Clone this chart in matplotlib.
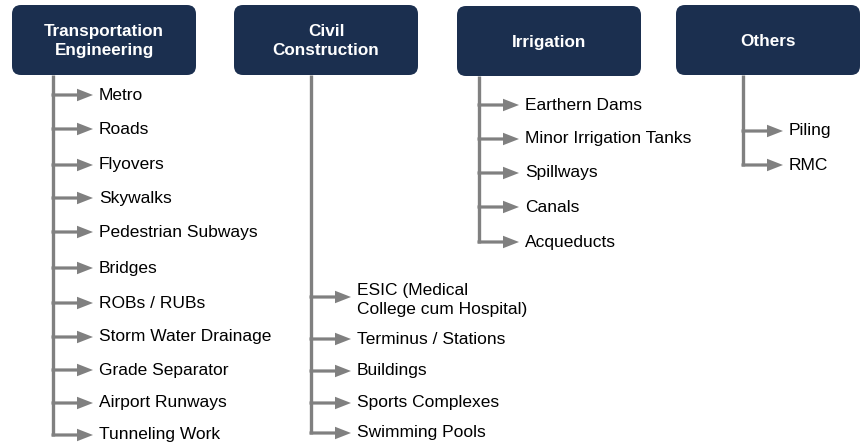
import matplotlib.pyplot as plt
from matplotlib.patches import FancyBboxPatch, FancyArrow

plt.rcParams['font.family'] = ['Liberation Sans', 'DejaVu Sans']

# categories and their items
categories = ['Transportation\nEngineering', 'Civil\nConstruction', 'Irrigation', 'Others']
transport = ['Metro', 'Roads', 'Flyovers', 'Skywalks', 'Pedestrian Subways', 'Bridges',
             'ROBs / RUBs', 'Storm Water Drainage', 'Grade Separator', 'Airport Runways',
             'Tunneling Work']
civil = ['ESIC (Medical\nCollege cum Hospital)', 'Terminus / Stations', 'Buildings',
         'Sports Complexes', 'Swimming Pools']
irrigation = ['Earthern Dams', 'Minor Irrigation Tanks', 'Spillways', 'Canals', 'Acqueducts']
others = ['Piling', 'RMC']
items = [transport, civil, irrigation, others]

# layout (pixels)
box_x = [12, 234, 457, 676]
box_top = [5, 5, 6, 5]
box_w = 184
box_h = 70
stem_x = [53, 311, 479, 743]
item_y = [
    [95, 129, 165, 198, 232, 268, 303, 337, 370, 403, 435],
    [300, 339, 371, 403, 433],
    [105, 139, 173, 207, 242],
    [131, 165],
]
arrow_len = 40
navy = '#1b2f4f'
grey = '#808080'

fig = plt.figure(figsize=(8.63, 4.48), dpi=100)
ax = fig.add_axes([0, 0, 1, 1])
ax.set_xlim(0, 863)
ax.set_ylim(448, 0)
ax.axis('off')

for i, cat in enumerate(categories):
    bx, by = box_x[i], box_top[i]
    ax.add_patch(FancyBboxPatch((bx, by), box_w, box_h,
                                boxstyle='round,pad=0,rounding_size=9',
                                fc=navy, ec='none', zorder=3))
    ax.text(bx + box_w / 2, by + box_h / 2 + 1, cat, color='white', fontsize=12.3,
            fontweight='bold', ha='center', va='center', linespacing=1.4, zorder=4)

    sx = stem_x[i]
    ys = item_y[i]
    ax.plot([sx, sx], [by + box_h, ys[-1] + 1.5], color=grey, lw=2.4,
            solid_capstyle='butt', zorder=1)
    for label, y in zip(items[i], ys):
        ay = y - 3 if '\n' in label else y
        ax.add_patch(FancyArrow(sx - 1.5, ay, arrow_len + 1.5, 0, width=3.2, head_width=12.5,
                                head_length=16, length_includes_head=True,
                                fc=grey, ec='none', zorder=2))
        ax.text(sx + arrow_len + 6, y, label, fontsize=12.5, color='black',
                ha='left', va='center', linespacing=1.35)

fig.savefig('out.png', dpi=100)
